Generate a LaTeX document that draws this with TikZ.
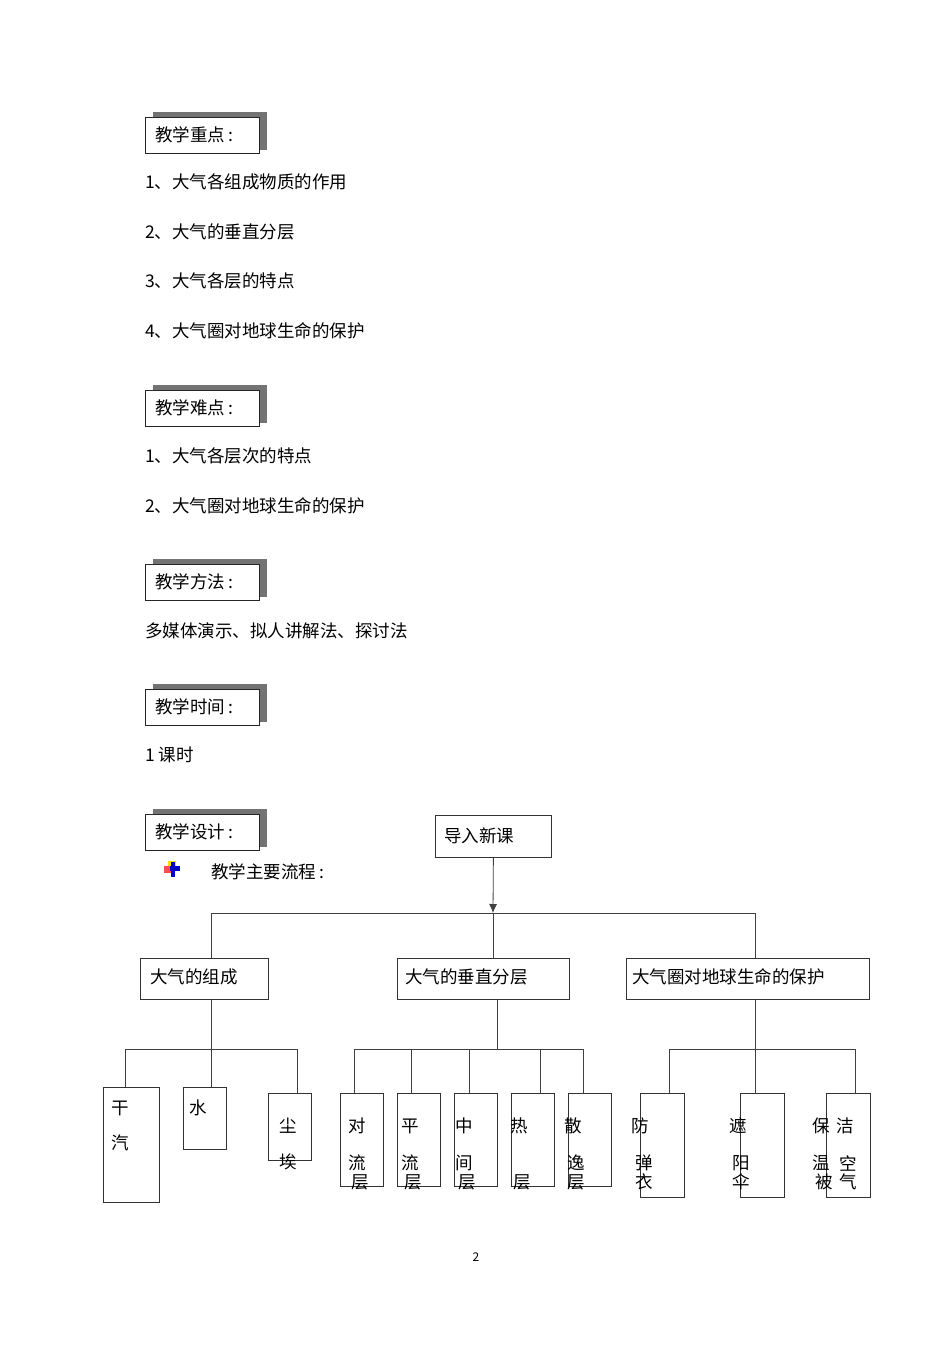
\documentclass[tikz,border=0pt]{standalone}
\usepackage{fontspec}
\setmainfont{Noto Sans CJK SC}
\usetikzlibrary{arrows.meta}
\tikzset{
  hdr/.style={draw=black!85,thick,fill=white,anchor=north west,inner sep=0pt},
  shade/.style={fill=black!55,anchor=north west,inner sep=0pt},
  box/.style={draw=black!80,thick,fill=white,anchor=north west,inner sep=0pt},
  txt/.style={anchor=west,inner sep=0pt},
  ch/.style={inner sep=0pt},
  line/.style={draw=black!75,thick}
}
\begin{document}
\begin{tikzpicture}[x=1pt,y=-1pt,font=\fontsize{17.5}{19}\selectfont]
  \useasboundingbox (0,0) rectangle (950,1345);
  % section headers
  \foreach \n/\t/\y in {zd/教学重点/117, nd/教学难点/390, ff/教学方法/564, sj/教学时间/689, sheji/教学设计/814}{
    \node[shade,minimum width=114,minimum height=38] at (153,\y-5) {};
    \node[hdr,minimum width=114,minimum height=36] (\n) at (145,\y) {};
    \node[txt] at (155,\y+18) {\t\,:};
  }
  % text lines
  \node[txt] (z1) at (145,182) {1、大气各组成物质的作用};
  \node[txt] (z2) at (145,232) {2、大气的垂直分层};
  \node[txt] (z3) at (145,281) {3、大气各层的特点};
  \node[txt] (z4) at (145,331) {4、大气圈对地球生命的保护};
  \node[txt] (n1) at (145,456) {1、大气各层次的特点};
  \node[txt] (n2) at (145,506) {2、大气圈对地球生命的保护};
  \node[txt] (f1) at (145,631) {多媒体演示、拟人讲解法、探讨法};
  \node[txt] (s1) at (145,755) {1 课时};
  % icon
  \fill[yellow!80!orange] (168,861) rectangle (176,869);
  \fill[red!70] (164,866) rectangle (172,873);
  \fill[blue!80!black] (170,866) rectangle (180,871);
  \fill[blue!80!black] (171,862) rectangle (175,877);
  \node[txt] (lc) at (211,872) {教学主要流程\,:};
  % top
  \node[box,minimum width=116,minimum height=42] (dr) at (435,815) {};
  \node[txt] at (444,836) {导入新课};
  \coordinate (bus) at (493,913);
  \draw[line,-{Latex[length=9pt,width=8pt]}] (dr.south) -- (bus);
  \node[box,minimum width=128,minimum height=41] (zc) at (140,958) {};
  \node[txt] at (150,977) {大气的组成};
  \node[box,minimum width=172,minimum height=41] (fc) at (397,958) {};
  \node[txt] at (405,977) {大气的垂直分层};
  \node[box,minimum width=243,minimum height=41] (bh) at (626,958) {};
  \node[txt] at (632,977) {大气圈对地球生命的保护};
  \draw[line] (zc.north -| 211,0) |- (bus) -| (bh.north -| 755,0);
  \draw[line] (fc.north -| 493,0) -- (bus);
  % leaves
  \node[box,minimum width=56,minimum height=115] (gq) at (103,1087) {};
  \node[box,minimum width=43,minimum height=62] (sh) at (183,1087) {};
  \node[box,minimum width=43,minimum height=67] (ca) at (268,1093) {};
  \foreach \n/\x in {dl/340,pl/397,zj/454,rc/511,sy/568}
    \node[box,minimum width=43,minimum height=93] (\n) at (\x,1093) {};
  \foreach \n/\x in {fd/640,zy/740,bw/826}
    \node[box,minimum width=44,minimum height=104] (\n) at (\x,1093) {};
  % connectors
  \draw[line] (zc.south -| 211,0) -- (211,1049);
  \draw[line] (gq.north -| 125,0) |- (297,1049) -- (ca.north -| 297,0);
  \draw[line] (211,1049) -- (sh.north -| 211,0);
  \draw[line] (fc.south -| 497,0) -- (497,1049);
  \draw[line] (354,1049) -- (583,1049);
  \foreach \n/\x in {dl/354,pl/411,zj/469,rc/540,sy/583}
    \draw[line] (\x,1049) -- (\n.north -| \x,0);
  \draw[line] (bh.south -| 755,0) -- (755,1049);
  \draw[line] (669,1049) -- (855,1049);
  \foreach \n/\x in {fd/669,zy/755,bw/855}
    \draw[line] (\x,1049) -- (\n.north -| \x,0);
  % leaf texts
  \foreach \t/\x/\y in {干/120/1108, 汽/120/1143, 水/198/1108, 尘/288/1126, 埃/288/1162,
    对/357/1126, 流/357/1163, 层/360/1182, 平/410/1126, 流/410/1163, 层/413/1182,
    中/464/1126, 间/464/1163, 层/467/1182, 热/519/1126, 层/522/1182,
    散/573/1126, 逸/576/1163, 层/576/1182, 防/640/1126, 弹/644/1163, 衣/644/1182,
    遮/738/1126, 阳/741/1163, 伞/741/1182, 保/821/1126, 温/821/1163, 被/824/1182,
    洁/845/1126, 空/848/1163, 气/848/1182}
    \node[ch] at (\x,\y) {\t};
  \node[ch,font=\fontsize{12}{14}\selectfont] (pg) at (476,1257) {2};
\end{tikzpicture}
\end{document}
